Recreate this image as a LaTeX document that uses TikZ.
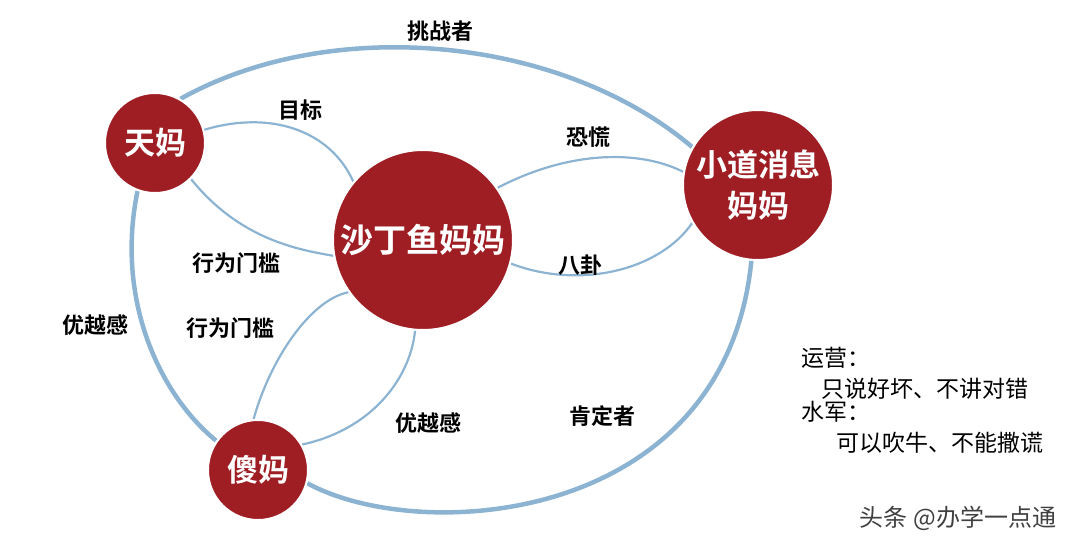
\documentclass[tikz,border=0pt]{standalone}
\usepackage{fontspec}
\newfontfamily\cjk{Noto Sans CJK SC}
\newfontfamily\cjkb{Noto Sans CJK SC Bold}
\definecolor{momred}{RGB}{158,30,36}
\definecolor{ln}{RGB}{140,180,210}
\begin{document}
\begin{tikzpicture}[x=1pt,y=-1pt,
  mom/.style={circle,fill=momred,draw=white,line width=2pt,text=white,font=\cjkb,align=center,inner sep=0pt},
  outer/.style={draw=ln,line width=4.5pt},
  inner/.style={draw=ln,line width=2.2pt},
  lbl/.style={font=\cjkb\fontsize{22}{24}\selectfont,text=black},
  note/.style={font=\cjk\fontsize{23}{26}\selectfont,anchor=west}]
\useasboundingbox (0,0) rectangle (1080,546);
\coordinate (Tc) at (155,143);
\coordinate (Sc) at (423,240);
\coordinate (Xc) at (758,185);
\coordinate (Fc) at (258,470);
\node[mom,minimum size=100pt] (T) at (Tc) {};
\node[mom,minimum size=180pt] (S) at (Sc) {};
\node[mom,minimum size=150pt] (X) at (Xc) {};
\node[mom,minimum size=100pt] (F) at (Fc) {};
\draw[outer] (T.60) .. controls (330,15) and (560,35) .. (X.150);
\draw[outer] (T.250) .. controls (115,300) and (160,395) .. (F.145);
\draw[outer] (F.345) .. controls (420,545) and (725,525) .. (X.265);
\draw[inner] (T.15) .. controls (270,110) and (330,130) .. (S.140);
\draw[inner] (T.315) .. controls (240,240) and (300,250) .. (S.190);
\draw[inner] (S.35) .. controls (570,150) and (640,150) .. (X.170);
\draw[inner] (S.345) .. controls (580,290) and (660,270) .. (X.210);
\draw[inner] (F.95) .. controls (270,360) and (310,300) .. (S.215);
\draw[inner] (F.30) .. controls (370,430) and (410,380) .. (S.265);
\node[mom,minimum size=100pt,font=\cjkb\fontsize{31}{33}\selectfont] at (Tc) {天妈};
\node[mom,minimum size=180pt,font=\cjkb\fontsize{33}{35}\selectfont] at (Sc) {沙丁鱼妈妈};
\node[mom,minimum size=150pt,font=\cjkb\fontsize{31}{41}\selectfont] at (Xc) {小道消息\\妈妈};
\node[mom,minimum size=100pt,font=\cjkb\fontsize{31}{33}\selectfont] at (Fc) {傻妈};
\node[lbl] (l1) at (440,31) {挑战者};
\node[lbl] (l2) at (300,110) {目标};
\node[lbl] (l3) at (588,137) {恐慌};
\node[lbl] (l4) at (236,263) {行为门槛};
\node[lbl] (l5) at (580,265) {八卦};
\node[lbl] (l6) at (95,325) {优越感};
\node[lbl] (l7) at (230,328) {行为门槛};
\node[lbl] (l8) at (428,423) {优越感};
\node[lbl] (l9) at (602,416) {肯定者};
\node[note] (n1) at (798,358) {运营：};
\node[note] (n2) at (818,389) {只说好坏、不讲对错};
\node[note] (n3) at (798,412) {水军：};
\node[note] (n4) at (833,443) {可以吹牛、不能撒谎};
\node[font=\cjk\fontsize{24}{26}\selectfont,text=black!75] (w) at (958,518) {头条 @办学一点通};
\end{tikzpicture}
\end{document}
